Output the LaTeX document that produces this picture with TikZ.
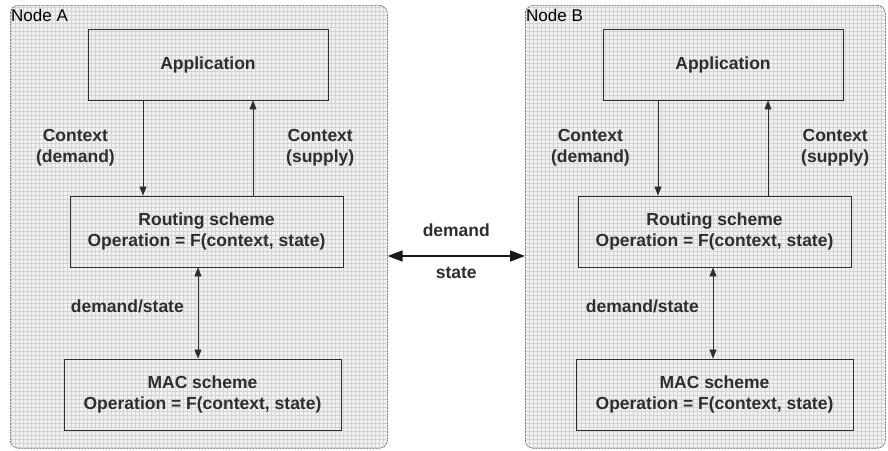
\documentclass[tikz,border=0pt]{standalone}
\usepackage{fontspec}
\setmainfont{Liberation Sans}
\usepackage{xcolor}
\usetikzlibrary{arrows.meta,positioning}
\definecolor{ink}{HTML}{2E2E2E}
\definecolor{gridbg}{HTML}{F2F2F2}
\definecolor{gridln}{HTML}{D4D4D4}
\newcommand{\lblfont}{\fontsize{17.5}{21}\selectfont\bfseries}

\begin{document}
\begin{tikzpicture}[x=1pt, y=-1pt,
  outer/.style={draw=ink!80, dash pattern=on 2pt off 1pt, line width=0.6pt, rounded corners=8pt,
    fill=gridbg, inner sep=0pt, anchor=north west,
    path picture={\draw[solid, gridln, line width=0.4pt, step=4pt] (path picture bounding box.south west) grid (path picture bounding box.north east);}},
  box/.style={draw=ink, line width=0.9pt, minimum height=71pt, align=center, text=ink, font=\lblfont},
  lbl/.style={text=ink, font=\lblfont, align=center, inner sep=0pt},
  flow/.style={ink, line width=0.6pt, -{Triangle[length=9pt,width=7pt]}},
  both/.style={ink, line width=0.6pt, {Triangle[length=9pt,width=7pt]}-{Triangle[length=9pt,width=7pt]}},
  wire/.style={black!90, line width=1.6pt, {Triangle[length=15pt,width=11pt]}-{Triangle[length=15pt,width=11pt]}}]
\useasboundingbox (0,0) rectangle (888,450);
\foreach \n/\ox/\ow/\rx/\mx in {A/0/377/206.5/202.5, B/515/360/714.5/714.5} {
  % node frame
  \node[outer, minimum width=\ow pt, minimum height=443pt] (out\n) at (10+\ox,5) {};
  \node[anchor=base west, inner sep=0pt, font=\fontsize{17}{20}\selectfont] (name\n) at (11+\ox,21) {Node \n};
  % layers
  \node[box, minimum width=240pt] (app\n) at (208+\ox,64.5) {Application};
  \node[box, minimum width=273pt] (rout\n) at (\rx,231.5) {Routing scheme\\Operation = F(context, state)};
  \node[box, minimum width=277pt] (mac\n) at (\mx,394.5) {MAC scheme\\Operation = F(context, state)};
  % vertical links
  \coordinate (dn\n) at (143+\ox,0);
  \coordinate (up\n) at (253+\ox,0);
  \coordinate (ds\n) at (198+\ox,0);
  \draw[flow] (app\n.south -| dn\n) -- (rout\n.north -| dn\n);
  \draw[flow] (rout\n.north -| up\n) -- (app\n.south -| up\n);
  \draw[both] (rout\n.south -| ds\n) -- (mac\n.north -| ds\n);
  \node[lbl, anchor=east] (cd\n) at (115+\ox,148) {Context\\(demand)};
  \node[lbl, anchor=west] (cs\n) at (286+\ox,148) {Context\\(supply)};
  \node[lbl, anchor=east] (dsl\n) at (184+\ox,306) {demand/state};
}
% link between the two nodes
\coordinate (lvl) at (0,256);
\draw[wire] (outA.east |- lvl) -- (outB.west |- lvl)
  node[midway, lbl, above=19pt] (dem) {demand}
  node[midway, lbl, below=10pt] (st) {state};
\end{tikzpicture}
\end{document}
